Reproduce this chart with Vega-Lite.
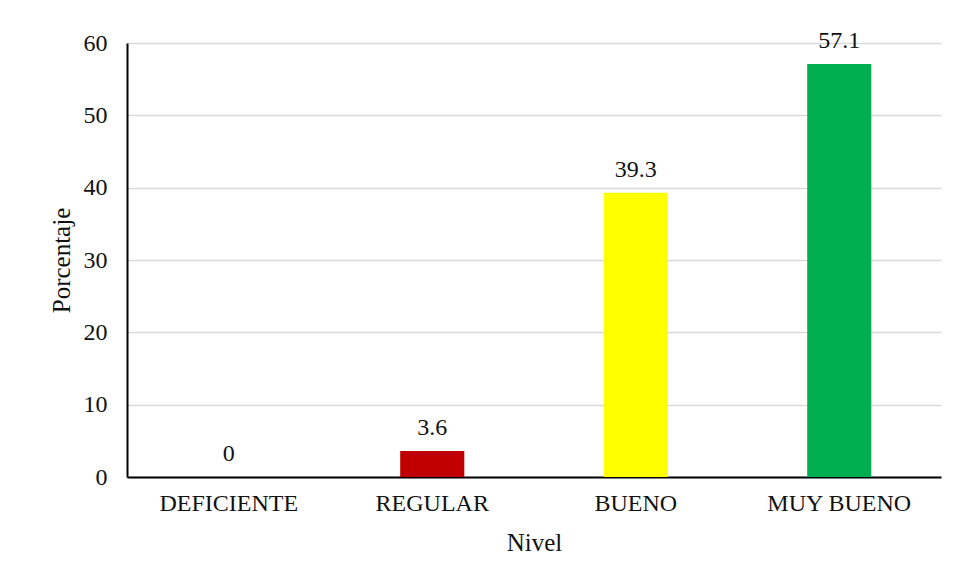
{
  "$schema": "https://vega.github.io/schema/vega-lite/v6.json",
  "width": 814,
  "height": 434,
  "autosize": {"type": "none"},
  "padding": {"left": 127, "top": 43, "right": 14, "bottom": 107},
  "background": "white",
  "config": {
    "view": {"stroke": null},
    "font": "Liberation Serif",
    "axis": {"labelFont": "Liberation Serif", "titleFont": "Liberation Serif", "titleFontWeight": "normal", "labelColor": "#111111", "titleColor": "#111111"}
  },
  "data": {
    "values": [
      {"Nivel": "DEFICIENTE", "Porcentaje": 0},
      {"Nivel": "REGULAR", "Porcentaje": 3.6},
      {"Nivel": "BUENO", "Porcentaje": 39.3},
      {"Nivel": "MUY BUENO", "Porcentaje": 57.1}
    ]
  },
  "encoding": {
    "x": {
      "field": "Nivel",
      "type": "nominal",
      "sort": null,
      "scale": {"paddingInner": 0.685, "paddingOuter": 0.3425},
      "axis": {
        "title": "Nivel",
        "labelAngle": 0,
        "labelFontSize": 24,
        "titleFontSize": 25,
        "labelPadding": 14,
        "titlePadding": 15,
        "ticks": false,
        "tickSize": 0,
        "domainColor": "#000000",
        "domainWidth": 2,
        "grid": false
      }
    },
    "y": {
      "field": "Porcentaje",
      "type": "quantitative",
      "scale": {"domain": [0, 60]},
      "axis": {
        "title": "Porcentaje",
        "values": [0, 10, 20, 30, 40, 50, 60],
        "labelFontSize": 24,
        "titleFontSize": 25,
        "labelPadding": 20,
        "titlePadding": 9,
        "ticks": false,
        "tickSize": 0,
        "domainColor": "#000000",
        "domainWidth": 2,
        "gridColor": "#d9d9d9",
        "gridWidth": 1.5
      }
    }
  },
  "layer": [
    {
      "mark": {"type": "bar"},
      "encoding": {
        "color": {
          "field": "Nivel",
          "type": "nominal",
          "scale": {
            "domain": ["DEFICIENTE", "REGULAR", "BUENO", "MUY BUENO"],
            "range": ["#4472c4", "#c00000", "#ffff00", "#00b050"]
          },
          "legend": null
        }
      }
    },
    {
      "mark": {"type": "text", "baseline": "bottom", "dy": -11, "fontSize": 24, "font": "Liberation Serif", "color": "#111111"},
      "encoding": {
        "text": {"field": "Porcentaje", "type": "quantitative"}
      }
    }
  ]
}
